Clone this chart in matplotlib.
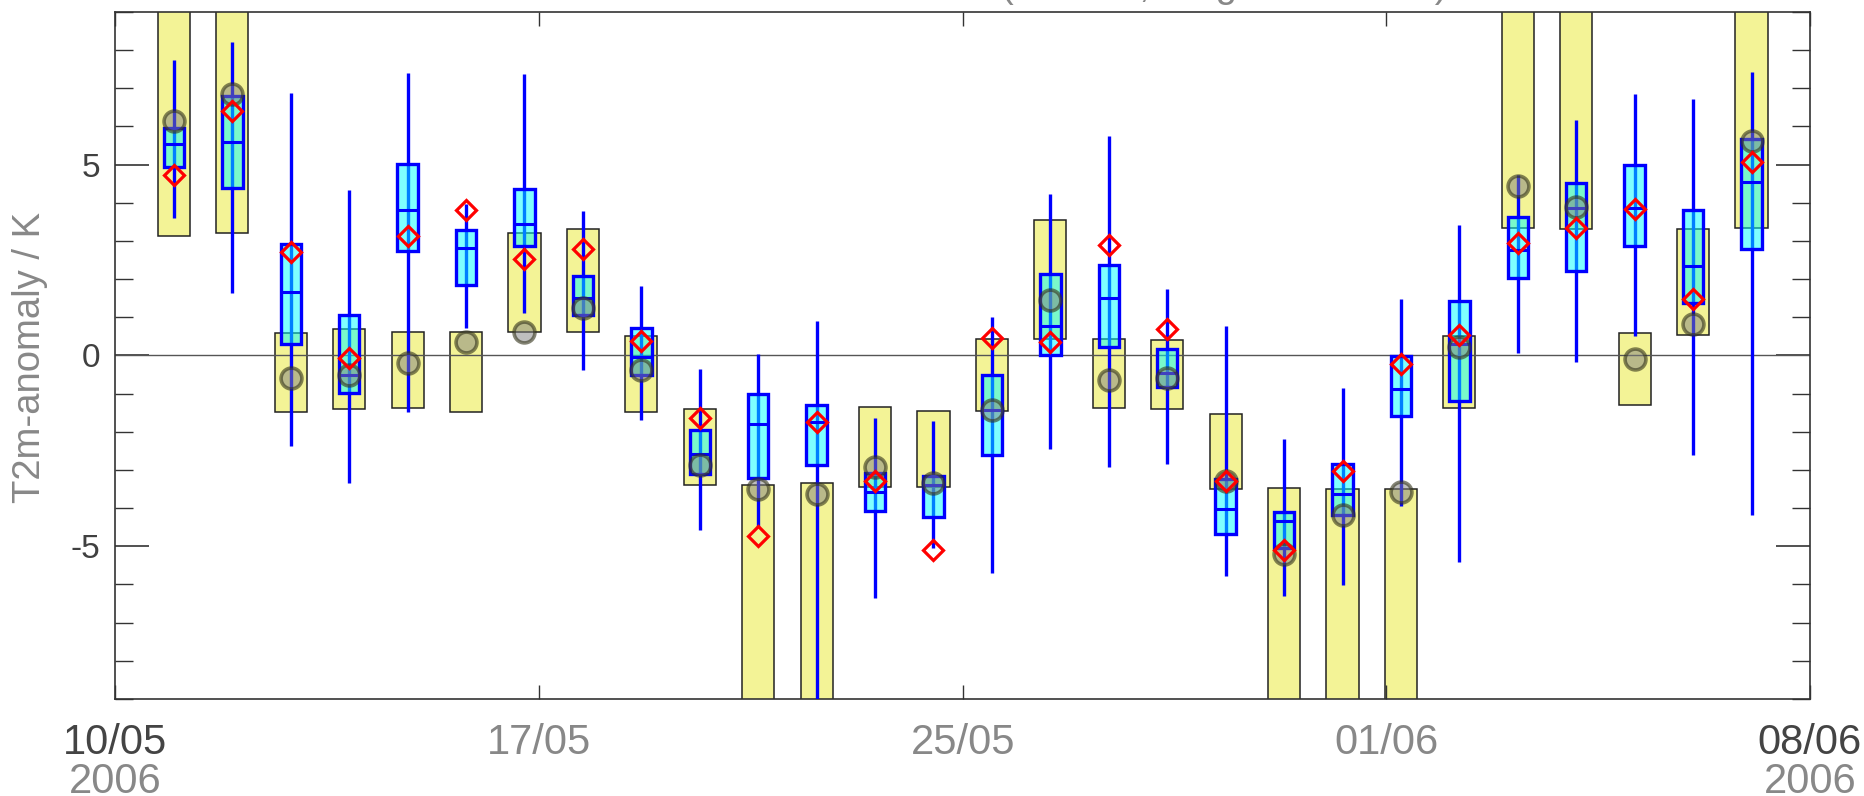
import numpy as np
import matplotlib
matplotlib.use('Agg')
import matplotlib.pyplot as plt
from matplotlib.ticker import MultipleLocator, FixedLocator

plt.rcParams['font.family'] = ['Liberation Sans', 'DejaVu Sans']
plt.rcParams['axes.unicode_minus'] = False

# ── data: day offset from 10/05/2006 ─────────────────────────────
day = np.arange(1, 29)
# yellow climatology band (values beyond +-9 are clipped by the axis)
clim_lo = [3.14, 3.22, -1.49, -1.39, -1.37, -1.47, 0.62, 0.62, -1.49, -3.39,
           -12, -12, -3.44, -3.44, -1.45, 0.44, -1.37, -1.39, -3.51, -12,
           -12, -12, -1.37, 3.35, 3.31, -1.29, 0.53, 3.33]
clim_hi = [12, 12, 0.60, 0.70, 0.61, 0.62, 3.22, 3.32, 0.50, -1.41,
           -3.39, -3.35, -1.35, -1.45, 0.43, 3.55, 0.42, 0.40, -1.54, -3.47,
           -3.50, -3.49, 0.50, 12, 12, 0.59, 3.32, 12]
# ensemble statistics
ens_min = [3.61, 1.63, -2.37, -3.35, -1.49, 0.73, 1.12, -0.38, -1.69, -4.58,
           -4.50, -9.5, -6.36, -5.04, -5.70, -2.45, -2.91, -2.84, -5.77, -6.30,
           -6.02, -3.95, -5.40, 0.07, -0.16, 0.50, -2.61, -4.19]
ens_max = [7.73, 8.22, 6.88, 4.34, 7.39, 3.98, 7.37, 3.79, 1.81, -0.35,
           0.05, 0.91, -1.63, -1.73, 1.00, 4.22, 5.75, 1.73, 0.77, -2.19,
           -0.85, 1.47, 3.41, 4.72, 6.18, 6.84, 6.73, 7.43]
ens_q25 = [4.93, 4.38, 0.29, -0.99, 2.74, 1.85, 2.86, 1.06, -0.50, -3.11,
           -3.21, -2.87, -4.07, -4.23, -2.61, 0.00, 0.23, -0.83, -4.68, -5.04,
           -4.19, -1.59, -1.20, 2.03, 2.22, 2.86, 1.37, 2.80]
ens_q75 = [5.96, 6.80, 2.93, 1.06, 5.01, 3.28, 4.35, 2.07, 0.73, -1.94,
           -1.01, -1.29, -3.08, -3.17, -0.50, 2.14, 2.36, 0.17, -3.23, -4.10,
           -2.85, -0.02, 1.42, 3.62, 4.52, 4.98, 3.82, 5.66]
ens_med = [5.54, 5.58, 1.67, -0.50, 3.82, 2.81, 3.45, 1.51, -0.04, -2.57,
           -1.80, -1.75, -3.59, -3.40, -1.44, 0.76, 1.50, -0.45, -4.01, -4.35,
           -3.63, -0.87, 0.30, 2.75, 3.86, 3.86, 2.34, 4.54]
# observation (grey circles) and deterministic forecast (red diamonds)
obs = [6.14, 6.84, -0.59, -0.50, -0.19, 0.35, 0.62, 1.24, -0.38, -2.88,
       -3.51, -3.63, -2.93, -3.35, -1.44, 1.45, -0.65, -0.60, -3.29, -5.19,
       -4.19, -3.57, 0.23, 4.45, 3.88, -0.08, 0.83, 5.63]
det = [4.72, 6.41, 2.70, -0.07, 3.13, 3.82, 2.52, 2.80, 0.37, -1.63,
       -4.74, -1.74, -3.29, -5.10, 0.47, 0.34, 2.90, 0.70, -3.29, -5.10,
       -3.03, -0.23, 0.54, 2.94, 3.35, 3.85, 1.47, 5.08]

tick_pos = [0, 7.25, 14.5, 21.75, 29]
tick_lab = ['10/05', '17/05', '25/05', '01/06', '08/06']
year_lab = '2006'

# ── figure ───────────────────────────────────────────────────────
fig = plt.figure(figsize=(18.65, 7.96), dpi=100)
ax = fig.add_axes([0.0619, 0.1219, 0.9086, 0.8631])

lo = np.array(clim_lo)
hi = np.array(clim_hi)
ax.bar(day, hi - lo, bottom=lo, width=0.55, color='#f3f396',
       edgecolor='#222222', linewidth=1.1, zorder=1)

ax.axhline(0, color='#555555', linewidth=1.0, zorder=2)

ax.vlines(day, ens_min, ens_max, color='blue', linewidth=2.4, zorder=3)

q25 = np.array(ens_q25)
q75 = np.array(ens_q75)
ax.bar(day, q75 - q25, bottom=q25, width=0.35, facecolor=(0, 1, 1, 0.5),
       edgecolor='blue', linewidth=2.4, zorder=4)
ax.hlines(ens_med, day - 0.175, day + 0.175, color='blue', linewidth=2.2, zorder=5)

ax.plot(day, obs, linestyle='none', marker='o', markersize=15,
        markerfacecolor=(0.5, 0.5, 0.5, 0.5), markeredgecolor=(0.2, 0.2, 0.1, 0.6),
        markeredgewidth=2.6, zorder=6)
ax.plot(day, det, linestyle='none', marker='D', markersize=10.5,
        markerfacecolor='none', markeredgecolor='red', markeredgewidth=2.3, zorder=7)

# ── axes styling ─────────────────────────────────────────────────
ax.set_xlim(0, 29)
ax.set_ylim(-9, 9)
for s in ax.spines.values():
    s.set_color('#333333')
    s.set_linewidth(1.2)

ax.yaxis.set_major_locator(FixedLocator([-5, 0, 5]))
ax.yaxis.set_minor_locator(MultipleLocator(1))
ax.tick_params(axis='y', which='major', direction='in', length=24.5, width=1.2,
               color='#333333', left=True, right=True, labelsize=24,
               labelcolor='#404040', pad=11)
ax.tick_params(axis='y', which='minor', direction='in', length=13, width=1.0,
               color='#333333', left=True, right=True)

ax.set_xticks(tick_pos)
ax.set_xticklabels(tick_lab)
ax.tick_params(axis='x', which='major', direction='in', length=10, width=1.0,
               color='#333333', top=True, bottom=True, labelsize=30, pad=17)
for i, t in enumerate(ax.get_xticklabels()):
    t.set_color('#444444' if i in (0, len(tick_lab) - 1) else '#888888')

for xp in (tick_pos[0], tick_pos[-1]):
    ax.annotate(year_lab, xy=(xp, 0), xycoords=('data', 'axes fraction'),
                xytext=(0, -45.5), textcoords='offset points', ha='center',
                va='top', fontsize=30, color='#888888', annotation_clip=False)

fig.text(12 / 1865, 1 - 357 / 796, 'T2m-anomaly / K', rotation=90, ha='left',
         va='center', fontsize=27.5, color='#888888')

# title sits above the canvas; only its lowest strokes show
fig.text(1000.6 / 1865, 1 + 3 / 796, '(median, range ensemble)', ha='left',
         va='baseline', fontsize=27.5, color='#888888')

fig.savefig('out.png', dpi=100)
